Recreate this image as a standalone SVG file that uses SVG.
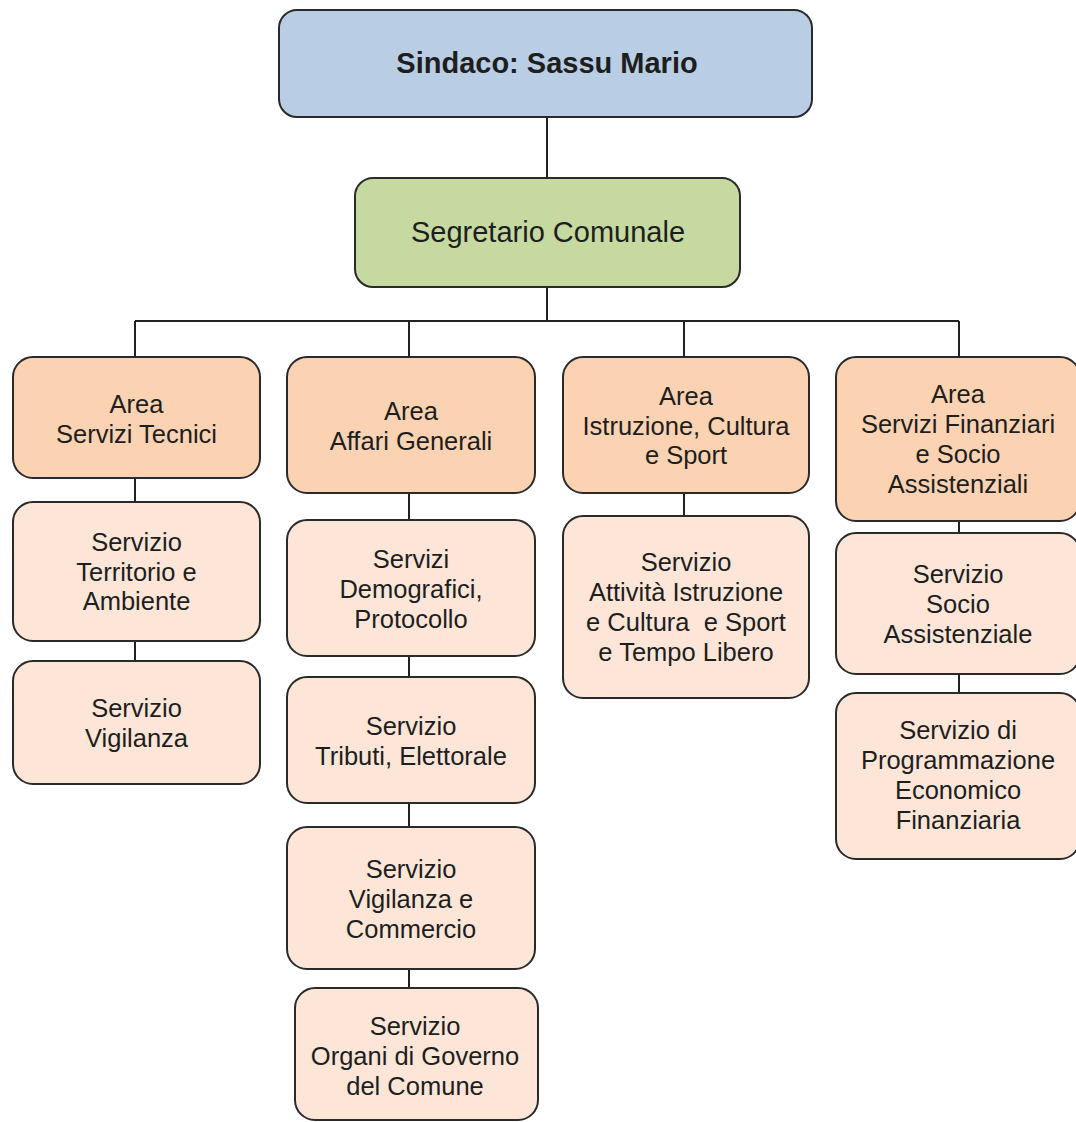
<svg xmlns="http://www.w3.org/2000/svg" width="1076" height="1122" viewBox="0 0 1076 1122">
<style>
.box{stroke:#2a2a2a;stroke-width:2}
.top{fill:#b9cde5}
.sec{fill:#c5d9a0}
.area{fill:#fbd3b3}
.serv{fill:#fde6d8}
text{font-family:"Liberation Sans",Arial,sans-serif;font-size:25.5px;fill:#1e1e1e;text-anchor:middle}
.big{font-size:29px}
.bold{font-weight:bold}
.conn{stroke:#222;stroke-width:2;fill:none}
</style>
<rect width="1076" height="1122" fill="#ffffff"/>
<g id="connectors" class="conn">
<path d="M547 117V178M547 287V321M135 321H959M135 321V357M409 321V357M684 321V357M959 321V357"/>
<path d="M135 478V502M135 641V661"/>
<path d="M409 493V520M409 656V677M409 803V827M409 969V988"/>
<path d="M684 493V516"/>
<path d="M959 521V533M959 674V693"/>
</g>
<g id="sindaco">
<rect class="box top" x="279" y="10" width="533" height="107" rx="18"/>
<text class="big bold" x="547" y="73">Sindaco: Sassu Mario</text>
</g>
<g id="segretario">
<rect class="box sec" x="355" y="178" width="385" height="109" rx="18"/>
<text class="big" x="548" y="242">Segretario Comunale</text>
</g>
<g id="area-tecnici">
<rect class="box area" x="13" y="357" width="247" height="121" rx="20"/>
<text x="136.5" y="413">Area</text>
<text x="136.5" y="443">Servizi Tecnici</text>
</g>
<g id="servizio-territorio">
<rect class="box serv" x="13" y="502" width="247" height="139" rx="20"/>
<text x="136.5" y="551">Servizio</text>
<text x="136.5" y="580.5">Territorio e</text>
<text x="136.5" y="610">Ambiente</text>
</g>
<g id="servizio-vigilanza">
<rect class="box serv" x="13" y="661" width="247" height="123" rx="20"/>
<text x="136.5" y="717">Servizio</text>
<text x="136.5" y="747">Vigilanza</text>
</g>
<g id="area-affari">
<rect class="box area" x="287" y="357" width="248" height="136" rx="20"/>
<text x="411" y="420">Area</text>
<text x="411" y="450">Affari Generali</text>
</g>
<g id="servizi-demografici">
<rect class="box serv" x="287" y="520" width="248" height="136" rx="20"/>
<text x="411" y="568">Servizi</text>
<text x="411" y="598">Demografici,</text>
<text x="411" y="627.5">Protocollo</text>
</g>
<g id="servizio-tributi">
<rect class="box serv" x="287" y="677" width="248" height="126" rx="20"/>
<text x="411" y="734.5">Servizio</text>
<text x="411" y="764.5">Tributi, Elettorale</text>
</g>
<g id="servizio-vigilanza-commercio">
<rect class="box serv" x="287" y="827" width="248" height="142" rx="20"/>
<text x="411" y="878">Servizio</text>
<text x="411" y="908">Vigilanza e</text>
<text x="411" y="938">Commercio</text>
</g>
<g id="servizio-organi">
<rect class="box serv" x="295" y="988" width="243" height="132" rx="20"/>
<text x="415" y="1035">Servizio</text>
<text x="415" y="1065">Organi di Governo</text>
<text x="415" y="1095">del Comune</text>
</g>
<g id="area-istruzione">
<rect class="box area" x="563" y="357" width="246" height="136" rx="20"/>
<text x="686" y="405">Area</text>
<text x="686" y="435">Istruzione, Cultura</text>
<text x="686" y="464">e Sport</text>
</g>
<g id="servizio-attivita">
<rect class="box serv" x="563" y="516" width="246" height="182" rx="20"/>
<text x="686" y="571">Servizio</text>
<text x="686" y="601">Attività Istruzione</text>
<text x="686" y="630.5" xml:space="preserve">e Cultura  e Sport</text>
<text x="686" y="661">e Tempo Libero</text>
</g>
<g id="area-finanziari">
<rect class="box area" x="836" y="357" width="244" height="164" rx="20"/>
<text x="958" y="403">Area</text>
<text x="958" y="433">Servizi Finanziari</text>
<text x="958" y="463">e Socio</text>
<text x="958" y="493">Assistenziali</text>
</g>
<g id="servizio-socio">
<rect class="box serv" x="836" y="533" width="244" height="141" rx="20"/>
<text x="958" y="583">Servizio</text>
<text x="958" y="613">Socio</text>
<text x="958" y="643">Assistenziale</text>
</g>
<g id="servizio-programmazione">
<rect class="box serv" x="836" y="693" width="244" height="166" rx="20"/>
<text x="958" y="739">Servizio di</text>
<text x="958" y="769">Programmazione</text>
<text x="958" y="799">Economico</text>
<text x="958" y="829">Finanziaria</text>
</g>
</svg>
